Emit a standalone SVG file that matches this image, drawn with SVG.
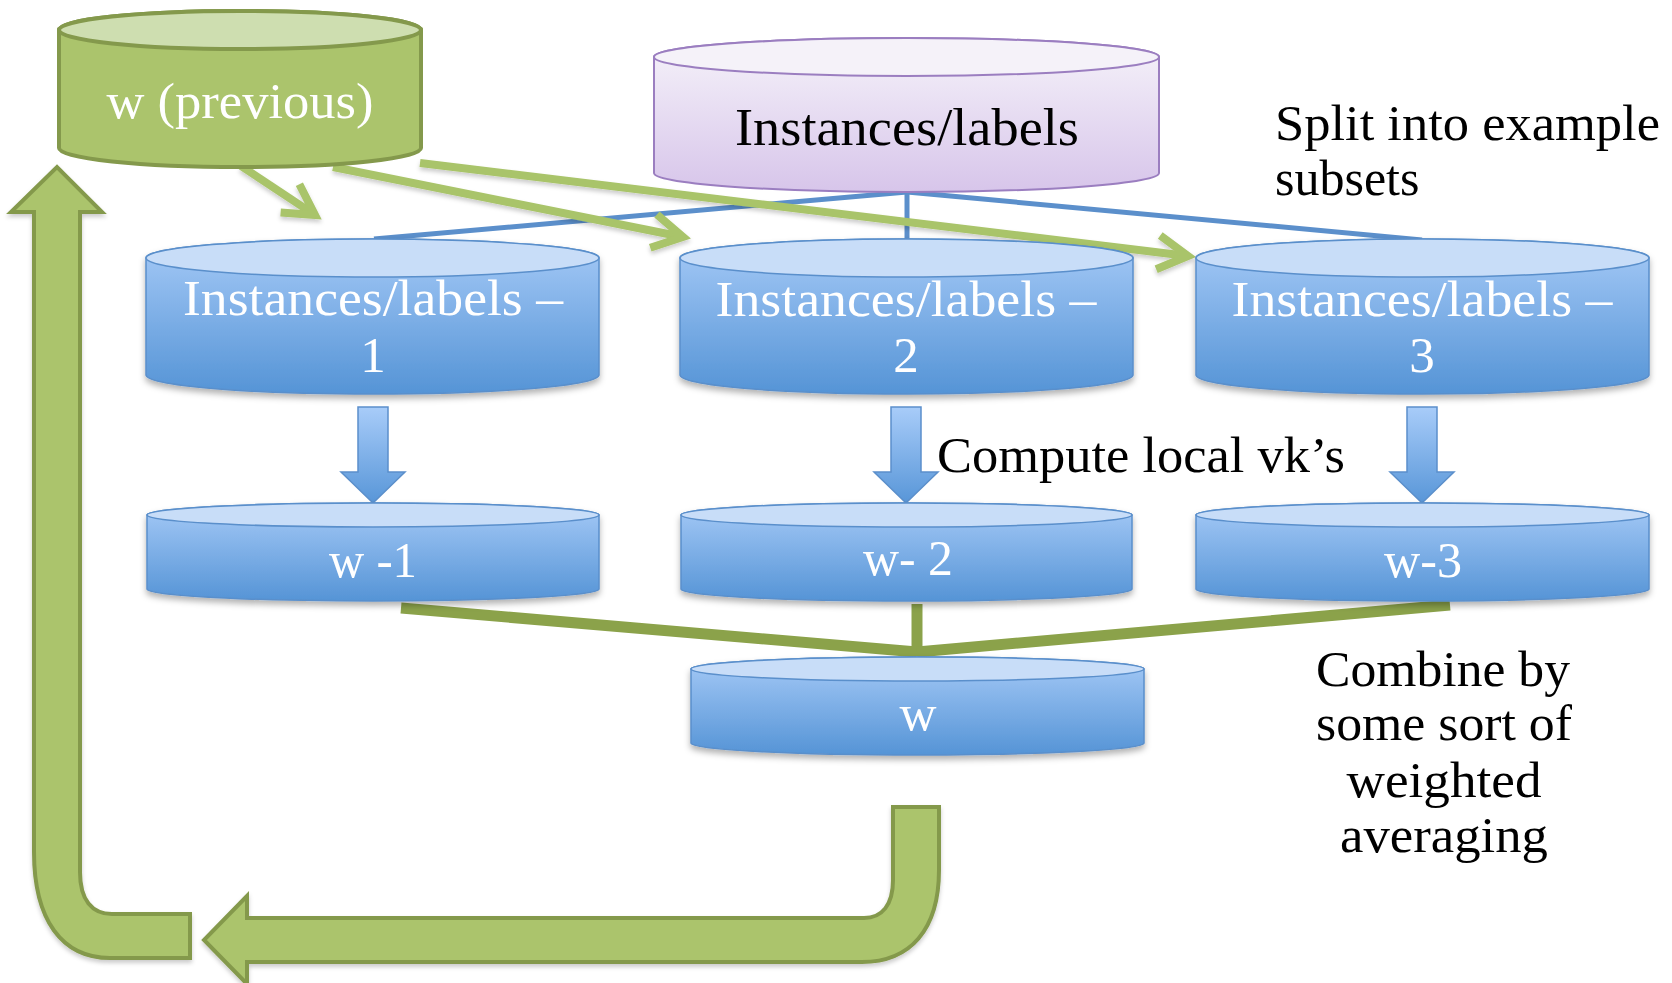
<svg xmlns="http://www.w3.org/2000/svg" width="1672" height="983" viewBox="0 0 1672 983">
<defs>
<linearGradient id="gBlue" x1="0" y1="0" x2="0" y2="1">
<stop offset="0" stop-color="#A6CAF7"/>
<stop offset="1" stop-color="#5594D6"/>
</linearGradient>
<linearGradient id="gPurple" x1="0" y1="0" x2="0" y2="1">
<stop offset="0" stop-color="#F6F3FA"/>
<stop offset="1" stop-color="#D7C5EA"/>
</linearGradient>
<linearGradient id="gArrow" x1="0" y1="0" x2="0" y2="1">
<stop offset="0" stop-color="#A8CCF9"/>
<stop offset="1" stop-color="#5896D8"/>
</linearGradient>
<filter id="shadow" x="-10%" y="-20%" width="120%" height="150%">
<feDropShadow dx="0" dy="4" stdDeviation="3" flood-color="#000" flood-opacity="0.3"/>
</filter>
<filter id="lshadow" x="-10%" y="-50%" width="120%" height="200%">
<feDropShadow dx="0" dy="3" stdDeviation="2" flood-color="#000" flood-opacity="0.2"/>
</filter>
<marker id="chev" markerUnits="userSpaceOnUse" orient="auto" refX="0" refY="0" markerWidth="60" markerHeight="60" viewBox="-40 -30 50 60" overflow="visible">
<path d="M -30 -17 L 0 0 L -30 17" fill="none" stroke="#A9C46A" stroke-width="8"/>
</marker>
<style>
.txt{font-family:"Liberation Serif","Times New Roman",serif;}
.w{fill:#FFFFFF;}
.k{fill:#000000;}
.bbody{fill:url(#gBlue);stroke:#5A8FCB;stroke-width:1.5;}
.btop{fill:#C8DDF8;stroke:#5A8FCB;stroke-width:1.5;}
.split{stroke:#5B8FCB;stroke-width:5;fill:none;}
.comb{stroke:#8BA24A;stroke-width:11;fill:none;}
.garrow{stroke:#A9C46A;stroke-width:8;fill:none;}
.uarrow{fill:#ABC46C;stroke:#84994C;stroke-width:4;stroke-linejoin:miter;}
.darrow{fill:url(#gArrow);stroke:#5B8FCB;stroke-width:1.5;}
</style>
</defs>
<rect width="1672" height="983" fill="#FFFFFF"/>

<!-- connectors -->
<g id="connectors">
<g id="split-lines">
<line class="split" x1="907" y1="192" x2="374" y2="239"/>
<line class="split" x1="907" y1="192" x2="907" y2="240"/>
<line class="split" x1="907" y1="192" x2="1422" y2="240"/>
</g>
<g id="green-arrows" filter="url(#lshadow)">
<line class="garrow" x1="241" y1="166" x2="315" y2="215" marker-end="url(#chev)"/>
<line class="garrow" x1="333" y1="167" x2="683" y2="237" marker-end="url(#chev)"/>
<line class="garrow" x1="420" y1="163" x2="1188" y2="256" marker-end="url(#chev)"/>
</g>
<g id="down-arrows">
<path class="darrow" d="M 358 407 H 388 V 472 H 405 L 373 503 L 341 472 H 358 Z"/>
<path class="darrow" d="M 891 407 H 921 V 472 H 938 L 906 503 L 874 472 H 891 Z"/>
<path class="darrow" d="M 1407 407 H 1437 V 472 H 1454 L 1422 503 L 1390 472 H 1407 Z"/>
</g>
<g id="combine-lines">
<line class="comb" x1="401" y1="608" x2="917" y2="652"/>
<line class="comb" x1="917" y1="604" x2="917" y2="656"/>
<line class="comb" x1="1450" y1="605" x2="917" y2="652"/>
</g>
<g id="loop-arrow" filter="url(#lshadow)">
<path class="uarrow" d="M 893 807 H 939 V 870 C 939 930 910 962 862 962 H 247 V 984 L 204 940 L 247 896 V 918 H 864 C 882 918 893 905 893 880 Z"/>
<path class="uarrow" d="M 190 914 H 112 C 92 914 80 900 80 872 V 212 H 102 L 57 167 L 11 212 H 34 V 852 C 34 920 62 958 110 958 H 190 Z"/>
</g>
</g>

<!-- nodes -->
<g id="w-previous">
<path d="M 59 30 V 148 A 181 19 0 0 0 421 148 V 30 A 181 19 0 0 0 59 30 Z" fill="#ABC46C" stroke="#84994C" stroke-width="4"/>
<ellipse cx="240" cy="30" rx="181" ry="19" fill="#CEDEB0" stroke="#84994C" stroke-width="4"/>
<text class="txt w" x="240" y="118" font-size="50" text-anchor="middle" textLength="267" lengthAdjust="spacingAndGlyphs">w (previous)</text>
</g>

<g id="instances">
<path d="M 654 57 V 173 A 252.5 19 0 0 0 1159 173 V 57 A 252.5 19 0 0 0 654 57 Z" fill="url(#gPurple)" stroke="#9B7EC0" stroke-width="2"/>
<ellipse cx="906.5" cy="57" rx="252.5" ry="19" fill="#F5F2F9" stroke="#9B7EC0" stroke-width="2"/>
<text class="txt k" x="907" y="145" font-size="53" text-anchor="middle" textLength="344" lengthAdjust="spacingAndGlyphs">Instances/labels</text>
</g>

<g id="subset1" filter="url(#shadow)">
<path class="bbody" d="M 146 258 V 375 A 226.5 19 0 0 0 599 375 V 258 A 226.5 19 0 0 0 146 258 Z"/>
<ellipse class="btop" cx="372.5" cy="258" rx="226.5" ry="19"/>
<text class="txt w" x="373" y="315" font-size="51" text-anchor="middle" textLength="380" lengthAdjust="spacingAndGlyphs">Instances/labels –</text>
<text class="txt w" x="373" y="372" font-size="51" text-anchor="middle">1</text>
</g>

<g id="subset2" filter="url(#shadow)">
<path class="bbody" d="M 680 258 V 375 A 226.5 19 0 0 0 1133 375 V 258 A 226.5 19 0 0 0 680 258 Z"/>
<ellipse class="btop" cx="906.5" cy="258" rx="226.5" ry="19"/>
<text class="txt w" x="906" y="316" font-size="51" text-anchor="middle" textLength="381" lengthAdjust="spacingAndGlyphs">Instances/labels –</text>
<text class="txt w" x="906" y="372" font-size="51" text-anchor="middle">2</text>
</g>

<g id="subset3" filter="url(#shadow)">
<path class="bbody" d="M 1196 258 V 375 A 226.5 19 0 0 0 1649 375 V 258 A 226.5 19 0 0 0 1196 258 Z"/>
<ellipse class="btop" cx="1422.5" cy="258" rx="226.5" ry="19"/>
<text class="txt w" x="1422" y="316" font-size="51" text-anchor="middle" textLength="381" lengthAdjust="spacingAndGlyphs">Instances/labels –</text>
<text class="txt w" x="1422" y="372" font-size="51" text-anchor="middle">3</text>
</g>

<g id="w1" filter="url(#shadow)">
<path class="bbody" d="M 147 515 V 589 A 226 12 0 0 0 599 589 V 515 A 226 12 0 0 0 147 515 Z"/>
<ellipse class="btop" cx="373" cy="515" rx="226" ry="12"/>
<text class="txt w" x="373" y="577" font-size="50" text-anchor="middle" textLength="88" lengthAdjust="spacingAndGlyphs">w -1</text>
</g>

<g id="w2" filter="url(#shadow)">
<path class="bbody" d="M 681 515 V 589 A 225.5 12 0 0 0 1132 589 V 515 A 225.5 12 0 0 0 681 515 Z"/>
<ellipse class="btop" cx="906.5" cy="515" rx="225.5" ry="12"/>
<text class="txt w" x="908" y="575" font-size="50" text-anchor="middle" textLength="90" lengthAdjust="spacingAndGlyphs">w- 2</text>
</g>

<g id="w3" filter="url(#shadow)">
<path class="bbody" d="M 1196 515 V 589 A 226.5 12 0 0 0 1649 589 V 515 A 226.5 12 0 0 0 1196 515 Z"/>
<ellipse class="btop" cx="1422.5" cy="515" rx="226.5" ry="12"/>
<text class="txt w" x="1423" y="577" font-size="50" text-anchor="middle" textLength="78" lengthAdjust="spacingAndGlyphs">w-3</text>
</g>

<g id="w" filter="url(#shadow)">
<path class="bbody" d="M 691 669 V 743 A 226.5 12 0 0 0 1144 743 V 669 A 226.5 12 0 0 0 691 669 Z"/>
<ellipse class="btop" cx="917.5" cy="669" rx="226.5" ry="12"/>
<text class="txt w" x="918" y="730" font-size="50" text-anchor="middle" textLength="37" lengthAdjust="spacingAndGlyphs">w</text>
</g>

<g id="labels">
<text class="txt k" x="1275" y="140" font-size="50" textLength="385" lengthAdjust="spacingAndGlyphs">Split into example</text>
<text class="txt k" x="1275" y="195" font-size="50">subsets</text>
<text class="txt k" x="937" y="472" font-size="50" textLength="408" lengthAdjust="spacingAndGlyphs">Compute local vk’s</text>
<text class="txt k" x="1443" y="686" font-size="51" text-anchor="middle" textLength="254" lengthAdjust="spacingAndGlyphs">Combine by</text>
<text class="txt k" x="1444" y="740" font-size="51" text-anchor="middle" textLength="256" lengthAdjust="spacingAndGlyphs">some sort of</text>
<text class="txt k" x="1444" y="797" font-size="51" text-anchor="middle" textLength="195" lengthAdjust="spacingAndGlyphs">weighted</text>
<text class="txt k" x="1444" y="852" font-size="51" text-anchor="middle" textLength="208" lengthAdjust="spacingAndGlyphs">averaging</text>
</g>
</svg>
